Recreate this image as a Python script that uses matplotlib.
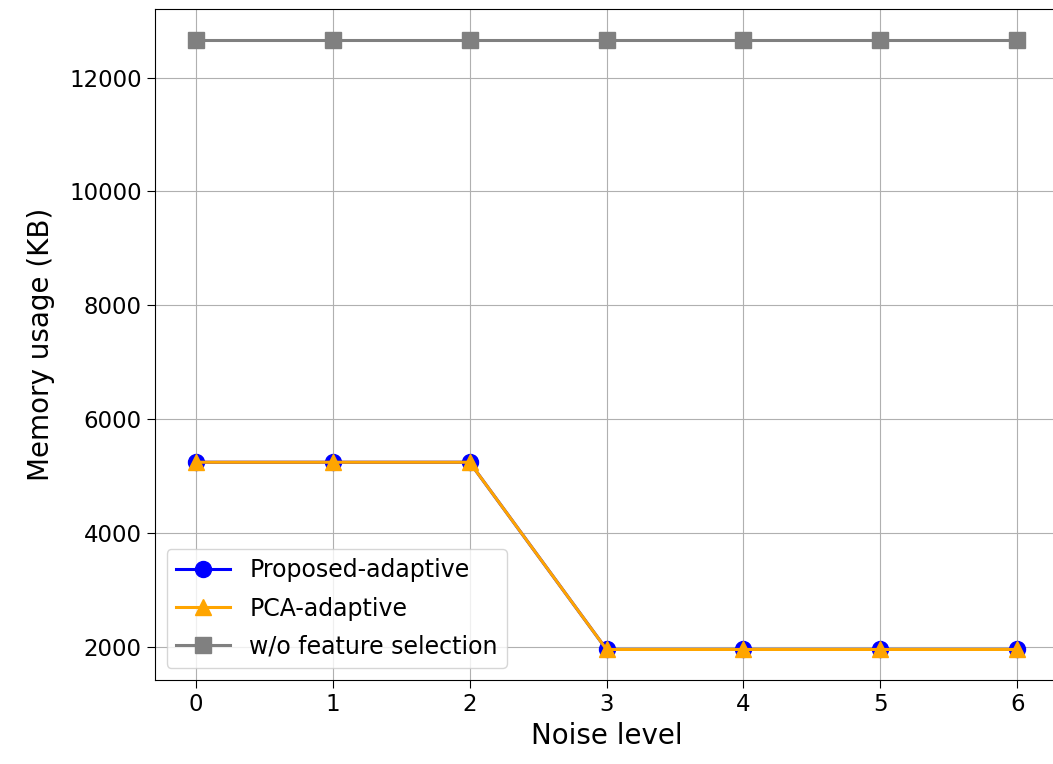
import matplotlib.pyplot as plt

noise_levels = [0, 1, 2, 3, 4, 5, 6]
proposed_adaptive = [5240, 5240, 5240, 1950, 1950, 1950, 1950]
pca_adaptive = [5240, 5240, 5240, 1950, 1950, 1950, 1950]
no_selection = [12666, 12666, 12666, 12666, 12666, 12666, 12666]

fig = plt.figure(figsize=(10.53, 7.64), dpi=100)
ax = fig.add_axes([0.147, 0.110, 0.858, 0.878])

ax.plot(noise_levels, proposed_adaptive, marker="o", color="blue",
        linewidth=2.2, markersize=11.5, label="Proposed-adaptive")
ax.plot(noise_levels, pca_adaptive, marker="^", color="orange",
        linewidth=2.2, markersize=11.5, label="PCA-adaptive")
ax.plot(noise_levels, no_selection, marker="s", color="gray",
        linewidth=2.2, markersize=11.5, label="w/o feature selection")

ax.set_xlabel("Noise level", fontsize=20)
ax.set_ylabel("Memory usage (KB)", fontsize=20, labelpad=10)
ax.tick_params(labelsize=16.5, length=6)
ax.grid(True)
ax.legend(loc="lower left", fontsize=17, handlelength=2.3, labelspacing=0.6)

fig.savefig("out.png", dpi=100)
